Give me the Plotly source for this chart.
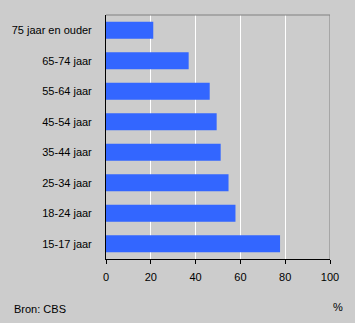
import plotly.graph_objects as go

categories = ["15-17 jaar", "18-24 jaar", "25-34 jaar", "35-44 jaar",
              "45-54 jaar", "55-64 jaar", "65-74 jaar", "75 jaar en ouder"]
values = [77.7, 57.8, 54.7, 51.2, 49.4, 46.3, 36.9, 21.1]
x_ticks = [0, 20, 40, 60, 80, 100]

BG = "#cccccc"
FONT = dict(family="Liberation Sans, Arial, sans-serif", size=11, color="#000000")

fig = go.Figure(go.Bar(
    x=values, y=categories, orientation="h",
    marker=dict(color="#3366ff", line=dict(width=0)),
    width=0.56,
))

fig.update_layout(
    width=355, height=323,
    margin=dict(l=103, r=25, t=15, b=64),
    paper_bgcolor=BG, plot_bgcolor=BG,
    font=FONT,
    showlegend=False,
    bargap=0.44,
    xaxis=dict(
        range=[0, 100], tickvals=x_ticks, ticktext=[str(v) for v in x_ticks],
        showgrid=True, gridcolor="#ffffff", gridwidth=1,
        showline=True, linecolor="#000000", linewidth=1,
        ticks="outside", ticklen=4, tickcolor="#000000",
        ticklabelstandoff=4,
        zeroline=False, fixedrange=True,
    ),
    yaxis=dict(
        categoryorder="array", categoryarray=categories,
        range=[-0.5, len(categories) - 0.5],
        showgrid=False, showline=True, linecolor="#000000", linewidth=1,
        ticks="", ticklabelstandoff=11, zeroline=False,
    ),
    shapes=[
        dict(type="line", xref="x", yref="paper", x0=100, x1=100, y0=0, y1=1,
             line=dict(color="#808080", width=1)),
        dict(type="line", xref="paper", yref="paper", x0=0, x1=1, y0=1, y1=1,
             line=dict(color="#808080", width=1)),
    ],
    annotations=[
        dict(text="Bron: CBS", xref="paper", yref="paper", x=-95/227, y=-50/244,
             xanchor="left", yanchor="middle", showarrow=False, font=FONT),
        dict(text="%", xref="paper", yref="paper", x=1.035, y=-48/244,
             xanchor="center", yanchor="middle", showarrow=False, font=FONT),
    ],
)

fig.write_html("out.html")
